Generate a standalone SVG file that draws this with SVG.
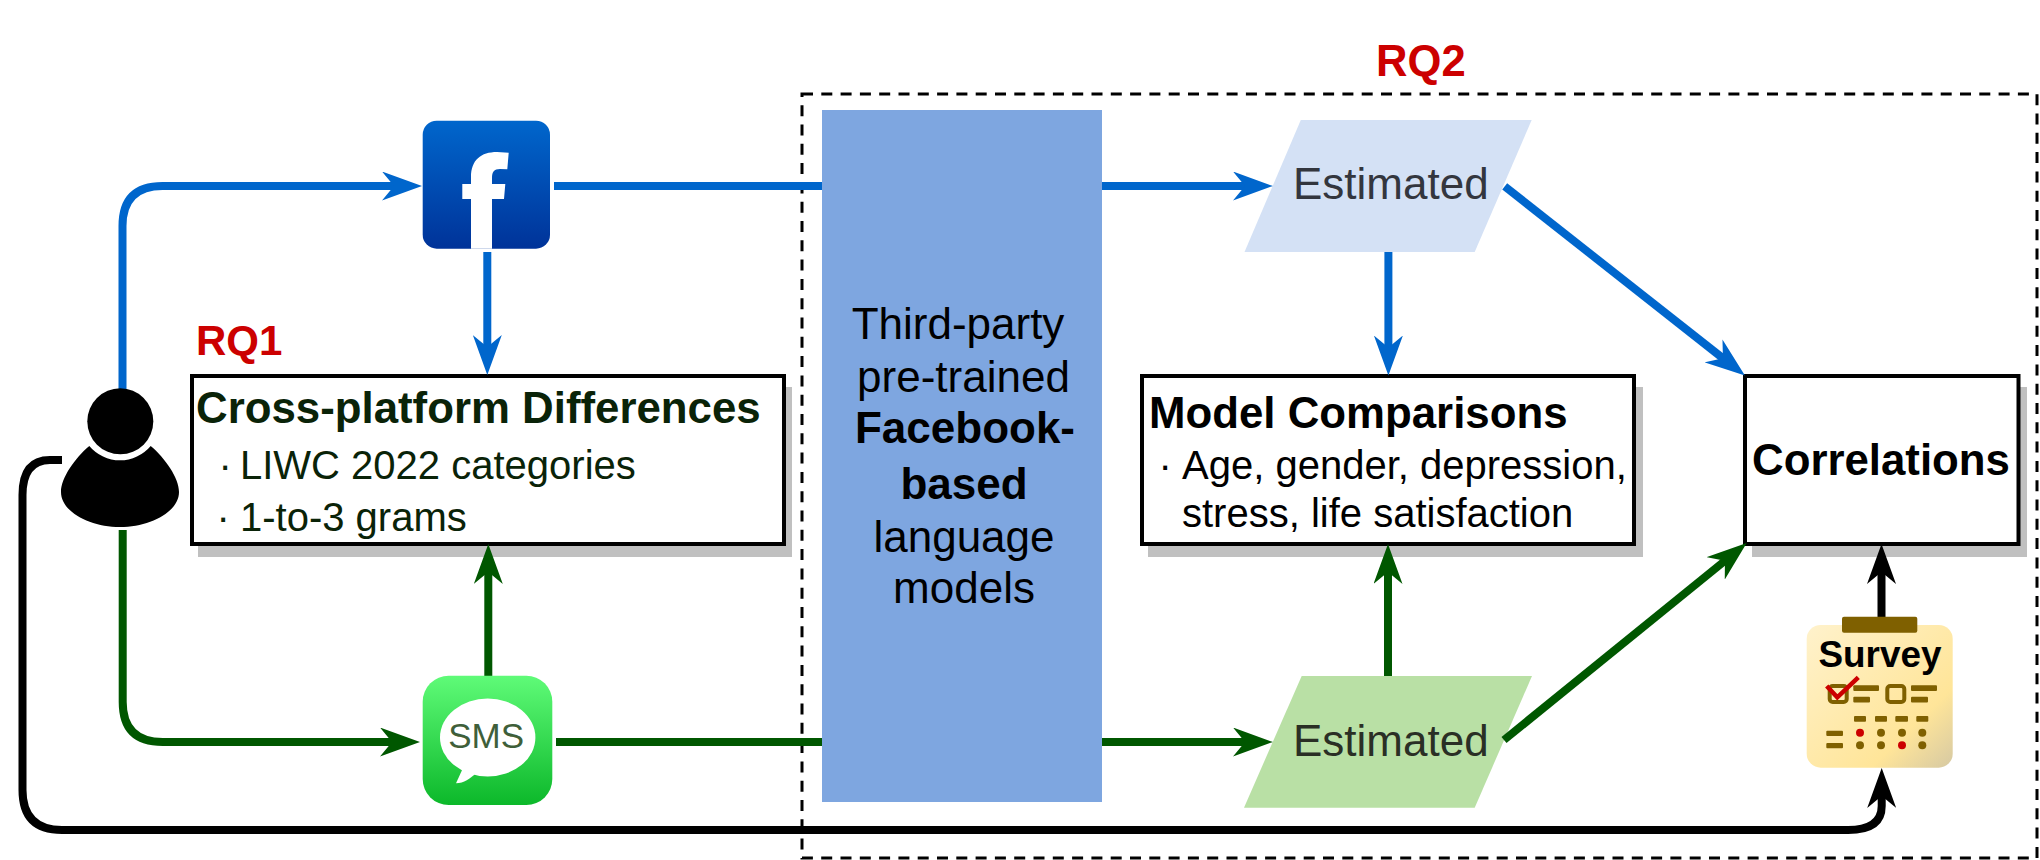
<svg xmlns="http://www.w3.org/2000/svg" width="2040" height="860" viewBox="0 0 2040 860">
<style>
text{font-family:"Liberation Sans",Arial,sans-serif;fill:#000}
.h{font-size:43.8px;font-weight:700}
.b{font-size:40px}
.t{font-size:44px}
.m{text-anchor:middle}
.rq{font-weight:700;fill:#c00}
.est{font-size:44px}
.box{fill:#fff;stroke:#000;stroke-width:4}
.sh{fill:#c0c0c0}
.ln{fill:none;stroke-width:8}
.blue{stroke:#06c}
.green{stroke:#005700}
.black{stroke:#000}
.bar{fill:#7f6000}
.cb{fill:none;stroke:#7f6000;stroke-width:4}
.dot{fill:#7f6000}
.red{fill:#c00}
</style>
<defs>
<linearGradient id="fb" x1="0" y1="0" x2="0" y2="1"><stop offset="0" stop-color="#0066cc"/><stop offset="1" stop-color="#003399"/></linearGradient>
<linearGradient id="sms" x1="0" y1="0" x2="0" y2="1"><stop offset="0" stop-color="#5ffb78"/><stop offset="1" stop-color="#0cb82a"/></linearGradient>
<linearGradient id="sv" x1="0" y1="0" x2="1" y2="1"><stop offset="0" stop-color="#fff2cc"/><stop offset="0.72" stop-color="#ffe599"/><stop offset="1" stop-color="#d6c9a3"/></linearGradient>
<marker id="aB" markerUnits="userSpaceOnUse" viewBox="0 0 40 29" refX="14" refY="14.5" markerWidth="40" markerHeight="29" orient="auto"><path d="M0 0L40 14.5L0 29L12 14.5Z" fill="#06c"/></marker>
<marker id="aG" markerUnits="userSpaceOnUse" viewBox="0 0 40 29" refX="14" refY="14.5" markerWidth="40" markerHeight="29" orient="auto"><path d="M0 0L40 14.5L0 29L12 14.5Z" fill="#005700"/></marker>
<marker id="aK" markerUnits="userSpaceOnUse" viewBox="0 0 40 29" refX="14" refY="14.5" markerWidth="40" markerHeight="29" orient="auto"><path d="M0 0L40 14.5L0 29L12 14.5Z" fill="#000"/></marker>
</defs>
<rect width="2040" height="860" fill="#fff"/>
<g id="rq2-region">
<rect x="802" y="94" width="1235" height="764" fill="none" stroke="#000" stroke-width="3" stroke-dasharray="11 8.3"/>
<text class="rq" x="1376" y="76" font-size="43.6">RQ2</text>
</g>
<text class="rq" x="196" y="355" font-size="42">RQ1</text>
<g id="cross-platform">
<rect class="sh" x="198" y="387" width="594" height="170"/>
<rect class="box" x="192" y="376" width="592" height="168"/>
<text class="h" x="196" y="423" style="fill:#0a2308">Cross-platform Differences</text>
<text class="b" y="479" style="fill:#0a2308"><tspan x="218.5">· </tspan><tspan x="240">LIWC 2022 categories</tspan></text>
<text class="b" y="531" style="fill:#0a2308"><tspan x="216.5">· </tspan><tspan x="240">1-to-3 grams</tspan></text>
</g>
<g id="model-comparisons">
<rect class="sh" x="1148" y="387" width="495" height="170"/>
<rect class="box" x="1142" y="376" width="492" height="168"/>
<text class="h" x="1149" y="427.5">Model Comparisons</text>
<text class="b" y="478.6"><tspan x="1158.5">· </tspan><tspan x="1182">Age, gender, depression,</tspan></text>
<text class="b" x="1182" y="527">stress, life satisfaction</text>
</g>
<g id="correlations">
<rect class="sh" x="1752" y="387" width="275" height="170"/>
<rect class="box" x="1745" y="376" width="273.5" height="168"/>
<text class="h" x="1752" y="475">Correlations</text>
</g>
<g id="estimated-fb">
<polygon points="1300.8,120 1531.7,120 1474.7,252 1244.5,252" fill="#d4e1f5"/>
<text class="est" x="1293" y="199" style="fill:#33363e">Estimated</text>
</g>
<g id="estimated-sms">
<polygon points="1301.7,676 1532,676 1474.7,807.7 1244,807.7" fill="#b9e0a5"/>
<text class="est" x="1293" y="755.7" style="fill:#2a2f25">Estimated</text>
</g>
<g id="connectors">
<path class="ln blue" d="M122.5 392V226Q122.5 186 162.5 186H396" marker-end="url(#aB)"/>
<path class="ln blue" d="M554 186H1247" marker-end="url(#aB)"/>
<path class="ln blue" d="M487.3 252V349" marker-end="url(#aB)"/>
<path class="ln blue" d="M1388.4 252V349.5" marker-end="url(#aB)"/>
<path class="ln blue" d="M1504.7 186.4L1724.5 359.5" marker-end="url(#aB)"/>
<path class="ln green" d="M122.7 530V702Q122.7 742 162.7 742H394" marker-end="url(#aG)"/>
<path class="ln green" d="M556 742H1247" marker-end="url(#aG)"/>
<path class="ln green" d="M488.3 676V570" marker-end="url(#aG)"/>
<path class="ln green" d="M1388 676V570" marker-end="url(#aG)"/>
<path class="ln green" d="M1504 740L1726.5 559.5" marker-end="url(#aG)"/>
<path class="ln black" d="M1881.5 617V570" marker-end="url(#aK)"/>
<path class="ln black" d="M62 460H50Q22.5 460 22.5 495V790Q22.5 830 62 830H1848Q1881.7 830 1881.7 806V794" marker-end="url(#aK)"/>
</g>
<g id="language-models">
<rect x="822" y="110" width="280" height="692" fill="#7ea6e0"/>
<text class="t m" x="958" y="339.3">Third-party</text>
<text class="t m" x="963.5" y="391.7">pre-trained</text>
<text class="t m" x="965" y="443.3" style="font-weight:700">Facebook-</text>
<text class="t m" x="964" y="499" style="font-weight:700">based</text>
<text class="t m" x="964" y="551.7">language</text>
<text class="t m" x="964" y="603.3">models</text>
</g>
<g id="user">
<circle cx="120.3" cy="421.3" r="33" fill="#000"/>
<path d="M89.3 446A40 40 0 0 0 150.7 446C165 458 179 478 179 492C179 512 150 527 120 527C90 527 61 512 61 492C61 478 75 458 89.3 446Z" fill="#000"/>
</g>
<g id="facebook">
<rect x="422.7" y="120.7" width="127.3" height="128" rx="14" fill="url(#fb)"/>
<path d="M471 248.7V199H462.3V184H471V177C471 160 481 152 497 152L508.7 152.7L507.3 169.3L500 169C494 169 492 172 492 178V184H505.3L504 199H492V248.7Z" fill="#fff"/>
</g>
<g id="sms-icon">
<rect x="422.7" y="675.7" width="129.6" height="129.3" rx="26" fill="url(#sms)"/>
<ellipse cx="487.7" cy="737.5" rx="47.7" ry="39" fill="#fff"/>
<path d="M463 768L456 783.3C464 783 470 779 476 773Z" fill="#fff"/>
<text x="486.2" y="747.7" font-size="35" class="m" style="fill:#3f5f3a">SMS</text>
</g>
<g id="survey">
<rect x="1806.7" y="625" width="146" height="142.7" rx="14" fill="url(#sv)"/>
<rect x="1842" y="616.7" width="75.3" height="16" rx="2" fill="#7f6000"/>
<text x="1880" y="667" font-size="36.9" font-weight="700" class="m">Survey</text>
<rect class="cb" x="1829.7" y="686" width="17" height="16" rx="3"/>
<rect class="bar" x="1853.3" y="685.3" width="25.7" height="5.7" rx="1"/>
<rect class="bar" x="1853.3" y="696.7" width="16.7" height="5.7" rx="1"/>
<rect class="cb" x="1887.3" y="686" width="17" height="16" rx="3"/>
<rect class="bar" x="1911" y="685.3" width="26" height="5.7" rx="1"/>
<rect class="bar" x="1911" y="696.7" width="17" height="5.7" rx="1"/>
<polyline points="1826.7,686 1837.3,697.3 1858.3,677.3" fill="none" stroke="#c00" stroke-width="4.5"/>
<rect class="bar" x="1854" y="716" width="12" height="5.7" rx="1"/>
<rect class="bar" x="1875" y="716" width="12" height="5.7" rx="1"/>
<rect class="bar" x="1895.3" y="716" width="12.7" height="5.7" rx="1"/>
<rect class="bar" x="1916.3" y="716" width="12" height="5.7" rx="1"/>
<rect class="bar" x="1826.3" y="730.7" width="16.7" height="5.3" rx="1"/>
<rect class="bar" x="1826.3" y="743" width="16.7" height="5.3" rx="1"/>
<circle class="red" cx="1860" cy="732.7" r="4"/>
<circle class="dot" cx="1881" cy="732.7" r="4"/>
<circle class="dot" cx="1902" cy="732.7" r="4"/>
<circle class="dot" cx="1922.3" cy="732.7" r="4"/>
<circle class="dot" cx="1860" cy="745.3" r="4"/>
<circle class="dot" cx="1881" cy="745.3" r="4"/>
<circle class="red" cx="1902" cy="745.3" r="4"/>
<circle class="dot" cx="1922.3" cy="745.3" r="4"/>
</g>
</svg>
